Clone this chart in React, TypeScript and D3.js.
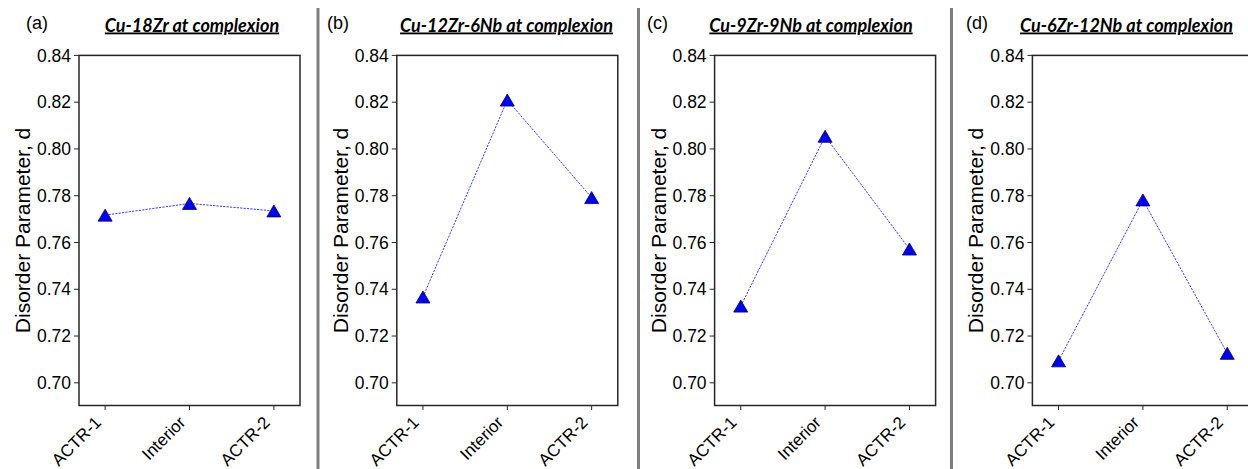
import React from "react";
import * as d3 from "d3";

// Site categories along the x axis
const categories = ["ACTR-1", "Interior", "ACTR-2"];

// Disorder parameter d for each alloy
const cu18Zr = [0.7717, 0.7767, 0.7735];
const cu12Zr6Nb = [0.7367, 0.8209, 0.7792];
const cu9Zr9Nb = [0.7328, 0.8054, 0.7572];
const cu6Zr12Nb = [0.7094, 0.7782, 0.7126];

const panelLetters = ["(a)", "(b)", "(c)", "(d)"];
const alloyTitles = [
  "Cu-18Zr at complexion",
  "Cu-12Zr-6Nb at complexion",
  "Cu-9Zr-9Nb at complexion",
  "Cu-6Zr-12Nb at complexion",
];
const seriesByPanel = [cu18Zr, cu12Zr6Nb, cu9Zr9Nb, cu6Zr12Nb];

const yTicks = [0.7, 0.72, 0.74, 0.76, 0.78, 0.8, 0.82, 0.84];
const yDomain: [number, number] = [0.6903, 0.84];

// layout
const W = 1248;
const H = 469;
const plotLeft0 = 79;
const plotStep = 317.8;
const plotW = 221;
const plotTop = 55.4;
const plotBottom = 405.5;
const letterX = [26, 327, 647, 966];
const titleX = [192, 506.5, 811, 1126.5];
const dividerX = [318, 638.5, 951.5];

const AXIS_FONT = "'Liberation Sans', Arial, sans-serif";
const TITLE_FONT = "Lato, 'Open Sans', sans-serif";
const FRAME = "#262626";

function trianglePath(cx: number, cy: number, w = 14, h = 12) {
  return `M${cx},${cy - h / 2}L${cx + w / 2},${cy + h / 2}L${cx - w / 2},${cy + h / 2}Z`;
}

function Panel({ index }: { index: number }) {
  const left = plotLeft0 + index * plotStep;
  const right = left + plotW;
  const values = seriesByPanel[index];

  const x = d3.scalePoint<string>().domain(categories).range([left, right]).padding(0.31);
  const y = d3.scaleLinear().domain(yDomain).range([plotBottom, plotTop]);

  const line = d3
    .line<number>()
    .x((_, i) => x(categories[i]) as number)
    .y((v) => y(v));

  return (
    <g>
      <text x={letterX[index]} y={29} fontFamily={AXIS_FONT} fontSize={18} fill="#000">
        {panelLetters[index]}
      </text>
      <text
        x={titleX[index]}
        y={31.5}
        textAnchor="middle"
        fontFamily={TITLE_FONT}
        fontSize={18}
        fontWeight="bold"
        fontStyle="italic"
        textDecoration="underline"
        fill="#000"
      >
        {alloyTitles[index]}
      </text>

      {/* y ticks */}
      {yTicks.map((t) => (
        <g key={t}>
          <line x1={left - 5} x2={left} y1={y(t)} y2={y(t)} stroke={FRAME} strokeWidth={1} />
          <text
            x={left - 8}
            y={y(t)}
            dy="0.35em"
            textAnchor="end"
            fontFamily={AXIS_FONT}
            fontSize={17.5}
            fill="#000"
          >
            {t.toFixed(2)}
          </text>
        </g>
      ))}

      {/* x ticks */}
      {categories.map((c) => {
        const cx = x(c) as number;
        return (
          <g key={c}>
            <line x1={cx} x2={cx} y1={plotBottom} y2={plotBottom + 4.5} stroke={FRAME} strokeWidth={1} />
            <text
              transform={`translate(${cx - 3},${plotBottom + 18}) rotate(-45)`}
              textAnchor="end"
              fontFamily={AXIS_FONT}
              fontSize={17}
              fill="#000"
            >
              {c}
            </text>
          </g>
        );
      })}

      {/* y axis title */}
      <text
        transform={`translate(${left - 49},${(plotTop + plotBottom) / 2}) rotate(-90)`}
        textAnchor="middle"
        fontFamily={AXIS_FONT}
        fontSize={21}
        fill="#000"
      >
        Disorder Parameter, d
      </text>

      {/* frame */}
      <rect
        x={left}
        y={plotTop}
        width={plotW}
        height={plotBottom - plotTop}
        fill="none"
        stroke={FRAME}
        strokeWidth={1.5}
      />

      {/* series */}
      <path d={line(values) || ""} fill="none" stroke="#3a3aff" strokeWidth={1} strokeDasharray="2.2,1.2" />
      {values.map((v, i) => (
        <path
          key={i}
          d={trianglePath(x(categories[i]) as number, y(v))}
          fill="#0000f0"
          stroke="#000070"
          strokeWidth={0.8}
          strokeLinejoin="miter"
        />
      ))}
    </g>
  );
}

export default function App() {
  return (
    <svg
      width={W}
      height={H}
      viewBox={`0 0 ${W} ${H}`}
      style={{ position: "absolute", left: 0, top: 0, background: "#fff" }}
    >
      <rect x={0} y={0} width={W} height={H} fill="#fff" />
      {dividerX.map((dx) => (
        <line key={dx} x1={dx} x2={dx} y1={8} y2={H} stroke="#7f7f7f" strokeWidth={3} />
      ))}
      {panelLetters.map((_, i) => (
        <Panel key={i} index={i} />
      ))}
    </svg>
  );
}
